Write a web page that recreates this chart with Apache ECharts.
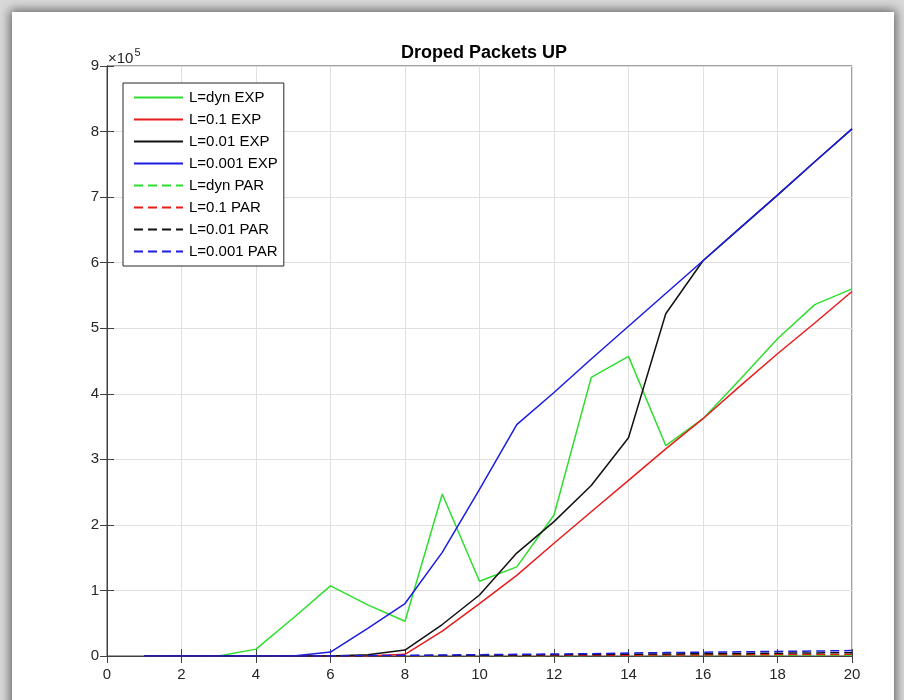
<!DOCTYPE html>
<html>
<head>
<meta charset="utf-8">
<script src="https://cdn.jsdelivr.net/npm/echarts@6/dist/echarts.min.js"></script>
<style>
  html, body { margin: 0; padding: 0; background: #d9d9d9; }
  #frame { position: absolute; left: 12px; top: 12px; width: 882px; height: 700px; background: #fff;
           box-shadow: 0 0 10px 2px rgba(0,0,0,0.55); }
  #chart { position: absolute; left: 0; top: 0; width: 904px; height: 700px; }
</style>
</head>
<body>
<div id="frame"></div>
<div id="chart"></div>
<script>
const xValues = [1, 2, 3, 4, 5, 6, 7, 8, 9, 10, 11, 12, 13, 14, 15, 16, 17, 18, 19, 20];

const dynExp = [0, 0, 0, 10500, 58000, 107000, 78000, 53000, 247000, 114000, 136000, 215000, 425000, 457000, 321000, 362000, 422000, 484000, 536000, 560000];
const l01Exp = [0, 0, 0, 0, 0, 0, 0, 2500, 38000, 80000, 123000, 172000, 220000, 268000, 316000, 362000, 412000, 461000, 508000, 556000];
const l001Exp = [0, 0, 0, 0, 0, 0, 2000, 9000, 48000, 93000, 157000, 205000, 260000, 333000, 522000, 603000, 653000, 703000, 754000, 804000];
const l0001Exp = [0, 0, 0, 0, 0, 6000, 42000, 80000, 158000, 254000, 353000, 402000, 453000, 503000, 553000, 603000, 653000, 703000, 754000, 804000];

const dynPar = [0, 0, 0, 0, 0, 0, 0, 0, 200, 300, 400, 500, 600, 700, 800, 900, 1000, 1100, 1200, 1300];
const l01Par = [0, 0, 0, 0, 0, 0, 0, 100, 300, 500, 700, 900, 1100, 1300, 1500, 1700, 1900, 2100, 2300, 2500];
const l001Par = [0, 0, 0, 0, 0, 0, 200, 500, 800, 1200, 1500, 1900, 2300, 2700, 3100, 3500, 3900, 4300, 4700, 5100];
const l0001Par = [0, 0, 0, 0, 0, 0, 500, 1000, 1500, 2000, 2500, 3000, 3500, 4500, 5200, 5800, 6400, 7000, 7600, 8300];

const seriesNames = ["L=dyn EXP", "L=0.1 EXP", "L=0.01 EXP", "L=0.001 EXP", "L=dyn PAR", "L=0.1 PAR", "L=0.01 PAR", "L=0.001 PAR"];
const seriesData = [dynExp, l01Exp, l001Exp, l0001Exp, dynPar, l01Par, l001Par, l0001Par];
const seriesColors = ["#2ede2e", "#e81c1c", "#111111", "#1c1ce0", "#2ede2e", "#e81c1c", "#111111", "#1c1ce0"];

const axisColor = "#404040";
const labelFont = { color: "#262626", fontSize: 15, fontFamily: "Liberation Sans, Arial, sans-serif" };

const chart = echarts.init(document.getElementById("chart"), null, { renderer: "canvas" });

const series = seriesNames.map((name, i) => ({
  name: name,
  type: "line",
  symbol: "none",
  silent: true,
  data: xValues.map((x, j) => [x, seriesData[i][j]]),
  lineStyle: { color: seriesColors[i], width: 1.5, type: i < 4 ? "solid" : [9, 5] },
  itemStyle: { color: seriesColors[i] }
}));

const option = {
  animation: false,
  title: {
    text: "Droped Packets UP",
    left: 479, top: 39, textAlign: "center",
    textStyle: { fontSize: 18, fontWeight: "bold", color: "#000", fontFamily: "Liberation Sans, Arial, sans-serif" }
  },
  graphic: [{
    type: "text", left: 108, top: 47,
    style: {
      text: "{a|×10}{b|5}",
      rich: {
        a: { fontSize: 15, fill: "#262626", fontFamily: "Liberation Sans, Arial, sans-serif", verticalAlign: "bottom", lineHeight: 18 },
        b: { fontSize: 11, fill: "#262626", fontFamily: "Liberation Sans, Arial, sans-serif", verticalAlign: "top", padding: [0, 0, 8, 1] }
      }
    }
  }],
  legend: {
    orient: "vertical",
    left: 123, top: 83,
    padding: [7, 6, 7, 10],
    itemWidth: 49, itemHeight: 14, itemGap: 7,
    backgroundColor: "#fff",
    borderColor: "#262626", borderWidth: 1,
    selectedMode: false,
    itemStyle: { opacity: 0 },
    textStyle: { color: "#000", fontSize: 15, fontFamily: "Liberation Sans, Arial, sans-serif", padding: [0, 0, 0, 1] },
    data: seriesNames
  },
  grid: { left: 107, right: 52, top: 66, bottom: 44, show: true, borderColor: axisColor, borderWidth: 1 },
  xAxis: [{
    type: "value", min: 0, max: 20, interval: 2,
    axisLine: { onZero: false, lineStyle: { color: axisColor } },
    axisTick: { inside: true, length: 7, lineStyle: { color: axisColor } },
    axisLabel: Object.assign({ margin: 11 }, labelFont),
    splitLine: { lineStyle: { color: "#e0e0e0" } }
  }, {
    type: "value", min: 0, max: 20, interval: 2, position: "top",
    axisLine: { lineStyle: { color: axisColor } },
    axisTick: { inside: true, length: 7, lineStyle: { color: axisColor } },
    axisLabel: { show: false }, splitLine: { show: false }
  }],
  yAxis: [{
    type: "value", min: 0, max: 900000, interval: 100000,
    axisLine: { show: true, onZero: false, lineStyle: { color: axisColor } },
    axisTick: { show: true, inside: true, length: 7, lineStyle: { color: axisColor } },
    axisLabel: Object.assign({ margin: 8, formatter: v => String(v / 100000) }, labelFont),
    splitLine: { lineStyle: { color: "#e0e0e0" } }
  }, {
    type: "value", min: 0, max: 900000, interval: 100000, position: "right",
    axisLine: { show: true, lineStyle: { color: axisColor } },
    axisTick: { show: true, inside: true, length: 7, lineStyle: { color: axisColor } },
    axisLabel: { show: false }, splitLine: { show: false }
  }],
  series: series
};

chart.setOption(option);
</script>
</body>
</html>
